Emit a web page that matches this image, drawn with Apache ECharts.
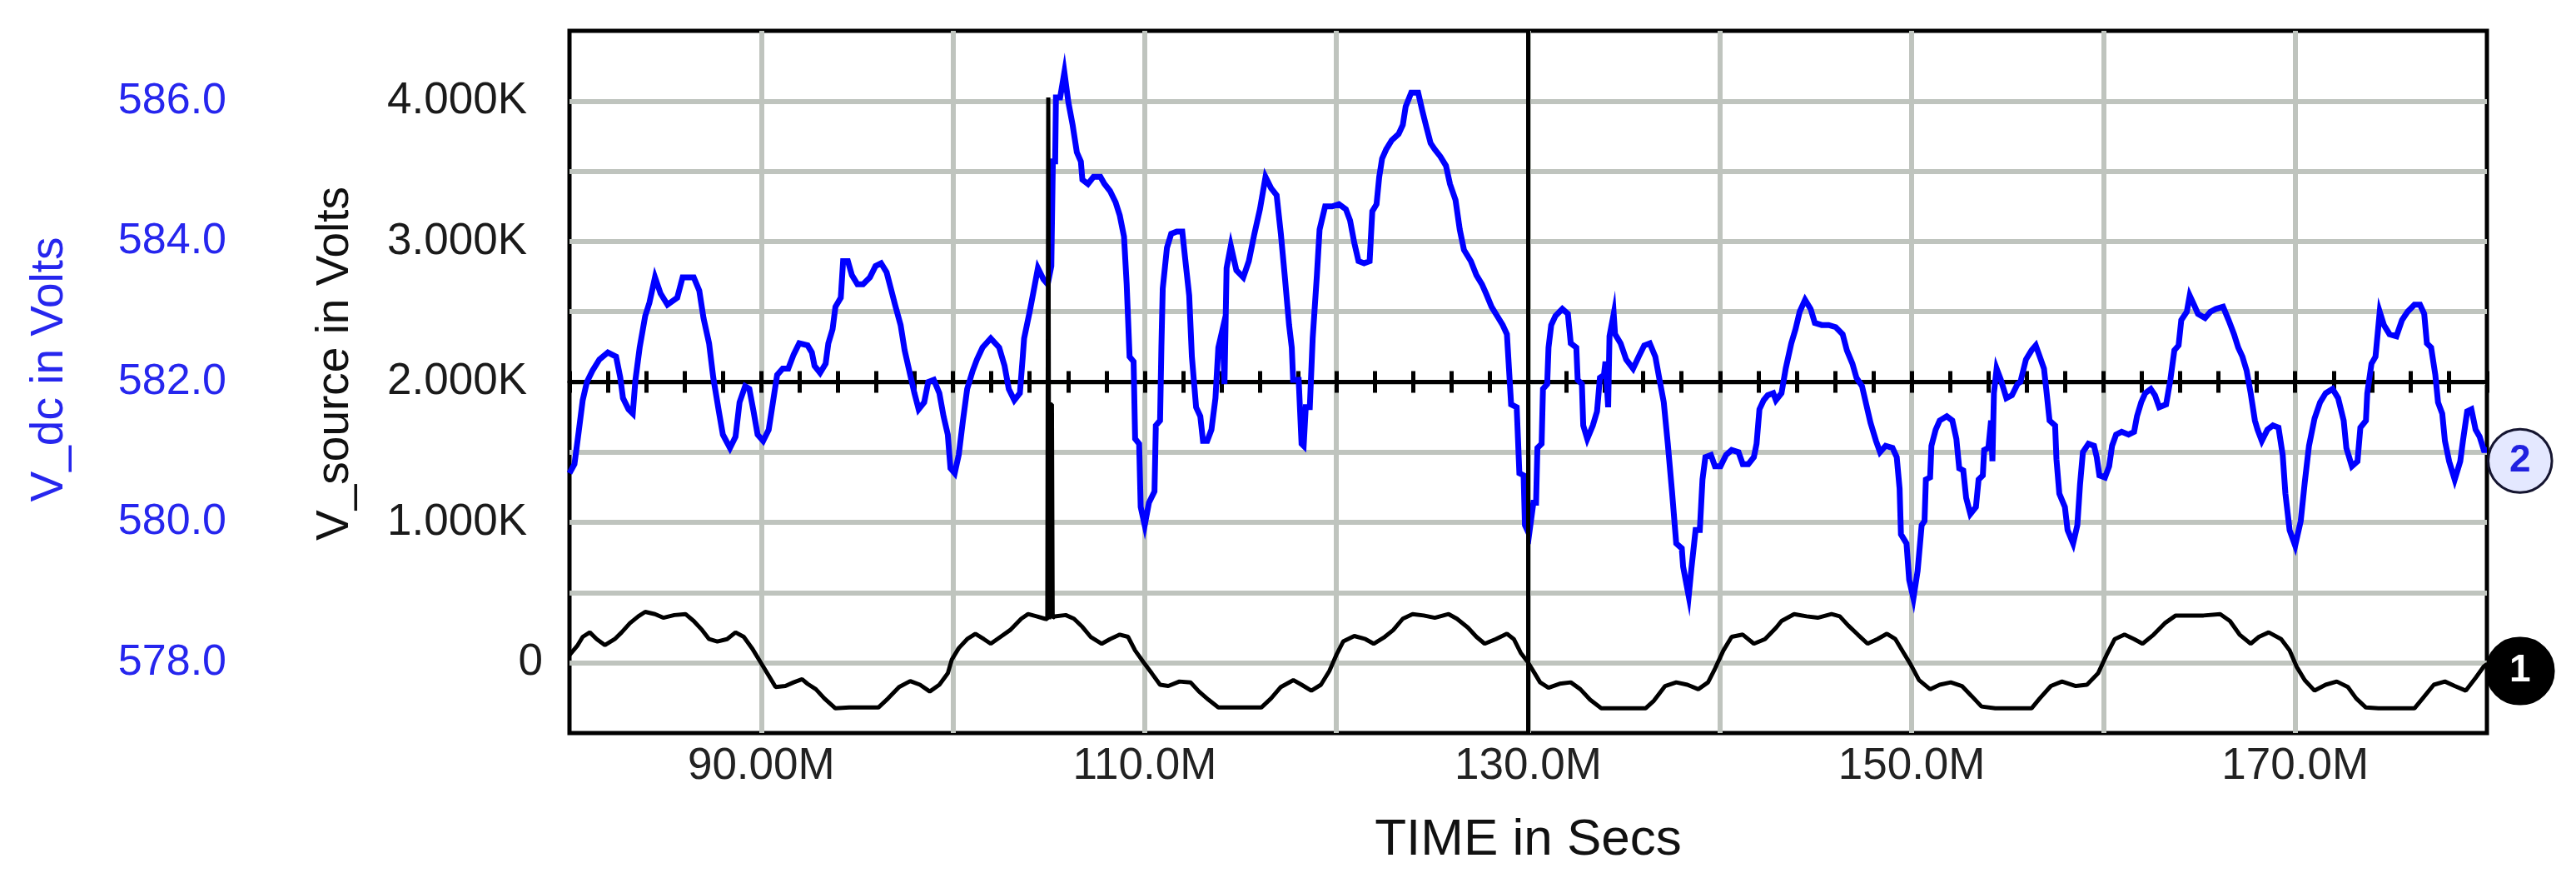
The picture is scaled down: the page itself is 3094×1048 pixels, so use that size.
<!DOCTYPE html>
<html>
<head>
<meta charset="utf-8">
<title>V_dc and V_source</title>
<script src="https://cdn.jsdelivr.net/npm/echarts@6.0.0/dist/echarts.min.js"></script>
<style>
  html, body { margin: 0; padding: 0; background: #fff; }
  #chart { width: 3094px; height: 1048px; }
</style>
</head>
<body>
<div id="chart"></div>
<script>
// time axis is in ms ("M" suffix on the labels)
const tDc = [
  80.00, 80.26, 80.48, 80.69, 80.91, 81.20, 81.56, 82.00, 82.43, 82.65, 82.79, 83.08, 83.30, 83.44, 83.66, 83.95,
  84.17, 84.46, 84.75, 85.11, 85.62, 85.90, 86.48, 86.77, 86.99, 87.28, 87.50, 87.79, 88.00, 88.37, 88.66, 88.87,
  89.16, 89.38, 89.60, 89.81, 90.10, 90.39, 90.61, 90.83, 91.12, 91.41, 91.69, 91.98, 92.42, 92.64, 92.78, 93.07,
  93.36, 93.50, 93.72, 93.87, 94.15, 94.27, 94.52, 94.73, 95.02, 95.31, 95.67, 95.96, 96.25, 96.54, 96.76, 96.98,
  97.27, 97.48, 97.77, 97.99, 98.21, 98.50, 98.71, 99.00, 99.29, 99.51, 99.73, 99.87, 100.09, 100.30, 100.52, 100.74,
  101.03, 101.25, 101.54, 101.97, 102.41, 102.69, 102.91, 103.20, 103.49, 103.64, 103.71, 104.00, 104.21, 104.43, 104.72, 104.94,
  105.13, 105.21, 105.33, 105.37, 105.59, 105.81, 106.02, 106.24, 106.46, 106.67, 106.75, 107.04, 107.33, 107.69, 107.90, 108.19,
  108.48, 108.70, 108.92, 109.06, 109.21, 109.42, 109.50, 109.71, 109.79, 110.00, 110.22, 110.51, 110.58, 110.80, 110.87, 110.94,
  111.16, 111.38, 111.67, 111.96, 112.10, 112.32, 112.46, 112.68, 112.90, 113.04, 113.26, 113.48, 113.69, 113.84, 114.06, 114.16,
  114.27, 114.49, 114.78, 115.14, 115.43, 115.72, 116.01, 116.30, 116.59, 116.88, 117.10, 117.31, 117.53, 117.67, 117.74, 118.03,
  118.18, 118.29, 118.40, 118.61, 118.76, 118.98, 119.12, 119.41, 119.77, 120.13, 120.49, 120.71, 120.93, 121.15, 121.44, 121.73,
  121.87, 122.09, 122.23, 122.38, 122.59, 122.88, 123.24, 123.46, 123.61, 123.90, 124.26, 124.48, 124.69, 124.91, 125.13, 125.42,
  125.71, 125.92, 126.21, 126.43, 126.65, 127.01, 127.30, 127.59, 127.80, 128.09, 128.38, 128.67, 128.89, 129.11, 129.40, 129.54,
  129.76, 129.83, 130.05, 130.27, 130.41, 130.48, 130.70, 130.77, 130.99, 131.06, 131.20, 131.42, 131.78, 132.07, 132.22, 132.51,
  132.58, 132.80, 132.87, 133.08, 133.37, 133.59, 133.74, 133.95, 134.03, 134.17, 134.24, 134.46, 134.53, 134.82, 135.11, 135.47,
  135.76, 136.05, 136.34, 136.63, 136.85, 137.07, 137.28, 137.50, 137.72, 138.01, 138.08, 138.37, 138.51, 138.73, 138.95, 139.09,
  139.24, 139.53, 139.74, 140.03, 140.32, 140.61, 140.97, 141.19, 141.48, 141.77, 141.91, 142.06, 142.28, 142.49, 142.78, 142.92,
  143.21, 143.43, 143.72, 143.94, 144.16, 144.44, 144.73, 144.95, 145.31, 145.67, 146.04, 146.40, 146.62, 146.91, 147.12, 147.41,
  147.63, 147.85, 148.14, 148.35, 148.64, 149.00, 149.22, 149.37, 149.44, 149.73, 149.87, 150.09, 150.31, 150.52, 150.67, 150.74,
  150.96, 151.03, 151.25, 151.46, 151.83, 152.12, 152.33, 152.48, 152.69, 152.84, 153.06, 153.35, 153.49, 153.71, 153.78, 154.00,
  154.14, 154.21, 154.29, 154.43, 154.65, 154.94, 155.23, 155.52, 155.67, 155.96, 156.25, 156.47, 156.68, 156.90, 157.04, 157.19,
  157.48, 157.55, 157.70, 157.99, 158.13, 158.42, 158.64, 158.78, 158.93, 159.22, 159.51, 159.65, 159.79, 160.08, 160.30, 160.45,
  160.66, 160.95, 161.31, 161.60, 161.75, 161.97, 162.18, 162.47, 162.69, 162.91, 163.27, 163.49, 163.70, 163.92, 164.06, 164.35,
  164.50, 164.72, 164.93, 165.30, 165.58, 165.87, 166.24, 166.53, 166.81, 167.03, 167.25, 167.47, 167.68, 167.90, 168.04, 168.26,
  168.55, 168.84, 169.13, 169.35, 169.49, 169.71, 170.00, 170.29, 170.50, 170.72, 171.01, 171.30, 171.59, 171.95, 172.24, 172.53,
  172.67, 172.96, 173.25, 173.40, 173.69, 173.76, 173.98, 174.19, 174.41, 174.63, 174.92, 175.28, 175.57, 175.86, 176.22, 176.51,
  176.73, 176.87, 177.09, 177.31, 177.45, 177.67, 177.81, 178.03, 178.32, 178.61, 178.75, 178.97, 179.19, 179.41, 179.62, 179.84,
  180.00
];
const vDc = [
  580.70, 580.83, 581.29, 581.74, 582.00, 582.16, 582.32, 582.42, 582.36, 582.06, 581.77, 581.61, 581.55, 582.03, 582.49, 582.94,
  583.13, 583.49, 583.26, 583.10, 583.20, 583.49, 583.49, 583.30, 582.91, 582.55, 582.06, 581.58, 581.25, 581.06, 581.22, 581.71,
  581.94, 581.90, 581.58, 581.25, 581.16, 581.32, 581.71, 582.10, 582.19, 582.19, 582.39, 582.55, 582.52, 582.42, 582.23, 582.13,
  582.26, 582.55, 582.75, 583.07, 583.20, 583.72, 583.72, 583.52, 583.39, 583.39, 583.49, 583.65, 583.69, 583.56, 583.33, 583.10,
  582.81, 582.45, 582.10, 581.84, 581.61, 581.71, 582.00, 582.03, 581.84, 581.51, 581.25, 580.77, 580.70, 580.96, 581.45, 581.90,
  582.16, 582.32, 582.49, 582.62, 582.49, 582.23, 581.90, 581.74, 581.84, 582.36, 582.62, 583.00, 583.30, 583.62, 583.46, 583.39,
  583.65, 585.14, 585.14, 586.05, 586.05, 586.41, 585.98, 585.66, 585.27, 585.14, 584.88, 584.82, 584.92, 584.92, 584.82, 584.72,
  584.56, 584.37, 584.07, 583.39, 582.36, 582.29, 581.19, 581.12, 580.22, 579.96, 580.28, 580.44, 581.38, 581.45, 582.49, 583.33,
  583.91, 584.11, 584.14, 584.14, 583.78, 583.23, 582.36, 581.64, 581.51, 581.16, 581.16, 581.32, 581.77, 582.49, 582.75, 581.97,
  583.62, 583.94, 583.59, 583.49, 583.72, 584.11, 584.46, 584.92, 584.76, 584.66, 584.11, 583.49, 582.81, 582.49, 582.03, 582.03,
  581.12, 581.09, 581.64, 581.64, 582.62, 583.52, 584.17, 584.50, 584.50, 584.53, 584.46, 584.30, 583.98, 583.72, 583.69, 583.72,
  584.43, 584.53, 584.92, 585.18, 585.31, 585.44, 585.53, 585.66, 585.92, 586.12, 586.12, 585.86, 585.63, 585.40, 585.31, 585.21,
  585.08, 584.82, 584.59, 584.17, 583.88, 583.72, 583.52, 583.39, 583.26, 583.07, 582.94, 582.81, 582.68, 581.68, 581.64, 580.70,
  580.67, 579.96, 579.83, 580.28, 580.28, 581.06, 581.12, 581.90, 581.97, 582.49, 582.81, 582.94, 583.04, 582.97, 582.55, 582.49,
  582.03, 581.97, 581.38, 581.19, 581.38, 581.58, 582.06, 582.10, 582.29, 581.64, 582.65, 582.97, 582.68, 582.55, 582.32, 582.19,
  582.36, 582.52, 582.55, 582.36, 582.03, 581.71, 581.12, 580.44, 579.70, 579.63, 579.37, 578.95, 579.34, 579.89, 579.89, 580.61,
  580.93, 580.96, 580.80, 580.80, 580.96, 581.03, 581.00, 580.83, 580.83, 580.93, 581.12, 581.61, 581.74, 581.81, 581.84, 581.74,
  581.84, 582.19, 582.55, 582.75, 583.00, 583.17, 583.04, 582.84, 582.81, 582.81, 582.78, 582.68, 582.45, 582.26, 582.06, 581.94,
  581.68, 581.42, 581.16, 581.00, 581.09, 581.06, 580.93, 580.48, 579.83, 579.70, 579.18, 578.92, 579.31, 579.96, 580.02, 580.61,
  580.64, 581.09, 581.32, 581.45, 581.51, 581.45, 581.19, 580.77, 580.74, 580.35, 580.12, 580.22, 580.61, 580.67, 581.03, 581.06,
  581.45, 580.87, 581.84, 582.19, 582.03, 581.77, 581.81, 581.97, 582.00, 582.32, 582.45, 582.52, 582.36, 582.19, 581.84, 581.45,
  581.38, 580.90, 580.41, 580.22, 579.89, 579.70, 579.96, 580.54, 581.00, 581.12, 581.09, 580.93, 580.67, 580.64, 580.80, 581.09,
  581.25, 581.29, 581.25, 581.29, 581.51, 581.71, 581.84, 581.90, 581.81, 581.64, 581.68, 582.03, 582.45, 582.52, 582.88, 583.00,
  583.23, 583.10, 582.97, 582.91, 583.00, 583.04, 583.07, 582.88, 582.68, 582.49, 582.36, 582.16, 581.84, 581.45, 581.32, 581.16,
  581.32, 581.38, 581.35, 580.96, 580.41, 579.89, 579.67, 580.02, 580.57, 581.09, 581.48, 581.71, 581.84, 581.90, 581.77, 581.45,
  581.06, 580.80, 580.87, 581.35, 581.45, 581.84, 582.26, 582.36, 583.00, 582.81, 582.68, 582.65, 582.88, 583.00, 583.10, 583.10,
  582.97, 582.55, 582.49, 582.10, 581.71, 581.55, 581.16, 580.87, 580.61, 580.87, 581.16, 581.58, 581.61, 581.32, 581.22, 581.03,
  581.03
];

const tSrc = [
  80.00, 80.40, 80.69, 81.06, 81.42, 81.85, 82.36, 82.72, 83.15, 83.59, 83.95, 84.46, 84.89, 85.47, 86.05, 86.48,
  86.92, 87.28, 87.71, 88.22, 88.66, 89.09, 89.52, 89.96, 90.39, 90.75, 91.26, 91.69, 92.13, 92.42, 92.85, 93.29,
  93.87, 94.59, 95.31, 96.11, 96.62, 97.19, 97.77, 98.28, 98.79, 99.29, 99.73, 99.94, 100.30, 100.74, 101.17, 101.61,
  101.97, 102.48, 102.98, 103.56, 103.92, 104.36, 104.79, 104.92, 104.97, 105.02, 105.06, 105.16, 105.20, 105.30, 105.88, 106.31,
  106.75, 107.18, 107.76, 108.19, 108.70, 109.13, 109.50, 109.93, 110.37, 110.80, 111.23, 111.81, 112.39, 112.83, 113.33, 113.84,
  114.56, 115.43, 116.08, 116.59, 117.10, 117.75, 118.18, 118.69, 119.19, 119.63, 119.99, 120.35, 120.93, 121.51, 121.94, 122.52,
  122.96, 123.46, 123.97, 124.55, 125.13, 125.85, 126.28, 126.86, 127.30, 127.73, 128.31, 128.89, 129.25, 129.61, 129.98, 130.34,
  130.62, 131.06, 131.64, 132.22, 132.72, 133.23, 133.81, 134.53, 135.26, 136.12, 136.56, 137.14, 137.72, 138.30, 138.87, 139.38,
  139.74, 140.18, 140.61, 141.19, 141.77, 142.35, 142.93, 143.21, 143.87, 144.52, 145.10, 145.82, 146.25, 146.69, 147.19, 147.70,
  148.21, 148.71, 149.15, 149.58, 149.94, 150.38, 150.96, 151.46, 152.04, 152.62, 153.13, 153.64, 154.36, 155.08, 156.25, 156.68,
  157.26, 157.84, 158.56, 159.14, 159.72, 160.16, 160.59, 161.10, 161.60, 162.04, 162.62, 163.20, 163.77, 164.35, 165.22, 166.09,
  166.60, 167.10, 167.68, 168.11, 168.62, 169.27, 169.71, 170.07, 170.50, 171.01, 171.59, 172.17, 172.75, 173.18, 173.69, 174.34,
  175.21, 176.22, 176.65, 177.23, 177.81, 178.32, 178.90, 179.41, 179.84, 180.00
];
const vSrc = [
  55, 120, 185, 217, 169, 126, 169, 217, 282, 331, 363, 347, 321, 340, 347, 298,
  233, 169, 152, 169, 217, 185, 104, 6, -91, -172, -165, -139, -117, -150, -188, -253,
  -324, -318, -318, -318, -253, -172, -130, -156, -204, -156, -75, 23, 104, 169, 207, 169,
  136, 185, 233, 314, 347, 331, 314, 310, 4026, 310, 1840, 1840, 320, 331, 340, 314,
  256, 185, 136, 169, 201, 185, 88, 6, -75, -156, -165, -133, -139, -204, -263, -318,
  -318, -318, -318, -253, -172, -123, -156, -198, -156, -58, 55, 152, 191, 169, 136, 185,
  233, 314, 347, 337, 321, 347, 314, 250, 185, 136, 169, 207, 169, 71, 6, -75,
  -139, -178, -149, -139, -188, -263, -324, -324, -324, -324, -269, -165, -139, -156, -188, -139,
  -42, 88, 185, 201, 136, 169, 250, 298, 347, 331, 321, 347, 331, 266, 201, 136,
  169, 207, 169, 71, -10, -123, -188, -156, -139, -165, -237, -311, -324, -324, -324, -253,
  -165, -133, -165, -156, -75, 55, 169, 201, 169, 136, 201, 282, 337, 337, 337, 347,
  298, 201, 136, 185, 217, 169, 88, -26, -123, -198, -156, -133, -172, -253, -318, -324,
  -324, -324, -253, -156, -133, -165, -198, -107, -26, -10
];

const xTickValues = [90, 110, 130, 150, 170];
const xTickLabels = ['90.00M', '110.0M', '130.0M', '150.0M', '170.0M'];
const srcTickValues = [0, 1000, 2000, 3000, 4000];
const srcTickLabels = ['0', '1.000K', '2.000K', '3.000K', '4.000K'];
const dcTickValues = [578, 580, 582, 584, 586];
const dcTickLabels = ['578.0', '580.0', '582.0', '584.0', '586.0'];
const cursorTime = 130;      // vertical cursor line
const traceNames = ['2', '1'];

const FONT = '"Liberation Sans", Arial, sans-serif';
const BLUE = '#0000ff';
const LABEL_BLUE = '#2626ee';
const GRID_GRAY = '#bfc4be';

function labelFor(values, labels) {
  return function (v) {
    for (let i = 0; i < values.length; i++) {
      if (Math.abs(values[i] - v) < 1e-6) return labels[i];
    }
    return '';
  };
}
const xLabelOf = labelFor(xTickValues, xTickLabels);
const srcLabelOf = labelFor(srcTickValues, srcTickLabels);
const dcLabelOf = labelFor(dcTickValues, dcTickLabels);

const chart = echarts.init(document.getElementById('chart'));

const option = {
  backgroundColor: '#fff',
  animation: false,
  grid: {
    left: 684, right: 107, top: 37, bottom: 168,
    show: true, borderColor: '#000', borderWidth: 5, backgroundColor: '#fff'
  },
  xAxis: [
    {
      type: 'value', min: 80, max: 180, interval: 10, position: 'bottom',
      axisLine: { show: false, onZero: false },
      axisTick: { show: false },
      axisLabel: { formatter: xLabelOf, fontSize: 53, color: '#222', margin: 14, fontFamily: FONT },
      splitLine: { show: true, showMinLine: false, showMaxLine: false, lineStyle: { color: GRID_GRAY, width: 6 } },
      name: 'TIME in Secs', nameLocation: 'middle', nameGap: 98,
      nameTextStyle: { fontSize: 62, color: '#111', fontFamily: FONT, letterSpacing: -1 }
    },
    // ticked line at V_source = 2000 (lower half of the ticks)
    {
      type: 'value', min: 80, max: 180, interval: 2, position: 'bottom',
      axisLine: { show: true, onZero: true, onZeroAxisIndex: 2, lineStyle: { color: '#000', width: 5 } },
      axisTick: { show: true, inside: false, length: 13, lineStyle: { color: '#000', width: 5 } },
      axisLabel: { show: false },
      splitLine: { show: false }
    },
    // upper half of the ticks
    {
      type: 'value', min: 80, max: 180, interval: 2, position: 'bottom',
      axisLine: { show: false, onZero: true, onZeroAxisIndex: 2 },
      axisTick: { show: true, inside: true, length: 13, lineStyle: { color: '#000', width: 5 } },
      axisLabel: { show: false },
      splitLine: { show: false }
    }
  ],
  yAxis: [
    {
      type: 'value', min: -500, max: 4500, interval: 500, position: 'left',
      axisLine: { show: false }, axisTick: { show: false },
      axisLabel: {
        formatter: function (v) {
          const s = srcLabelOf(v);
          return s && s !== '0' ? '{k|' + s + '}' : s;
        },
        fontSize: 53, color: '#1a1a1a', margin: 32, fontFamily: FONT,
        rich: { k: { fontSize: 53, color: '#1a1a1a', fontFamily: FONT, padding: [0, 19, 0, 0] } }
      },
      splitLine: { show: true, showMinLine: false, showMaxLine: false, lineStyle: { color: GRID_GRAY, width: 6 } },
      name: 'V_source in Volts', nameLocation: 'middle', nameGap: 254,
      nameTextStyle: { fontSize: 55, color: '#111', fontFamily: FONT, padding: [0, 0, 0, 44] }
    },
    {
      type: 'value', min: 577, max: 587, interval: 1, position: 'left', offset: 380,
      axisLine: { show: false }, axisTick: { show: false }, splitLine: { show: false },
      axisLabel: { formatter: dcLabelOf, fontSize: 52, color: LABEL_BLUE, margin: 32, fontFamily: FONT },
      name: 'V_dc in Volts', nameLocation: 'middle', nameGap: 217,
      nameTextStyle: { fontSize: 55, color: LABEL_BLUE, fontFamily: FONT, padding: [0, 0, 0, 30] }
    },
    // hidden helper: its zero sits at V_source = 2000
    { type: 'value', min: -2500, max: 2500, show: false }
  ],
  series: [
    {
      name: 'V_dc', type: 'line', xAxisIndex: 0, yAxisIndex: 1,
      data: tDc.map((t, i) => [t, vDc[i]]),
      showSymbol: false, symbol: 'none',
      lineStyle: { color: BLUE, width: 7, join: 'miter' }, itemStyle: { color: BLUE },
      endLabel: {
        show: true, formatter: traceNames[0], distance: 3, offset: [0, 13],
        color: '#2020e0', fontSize: 46, fontWeight: 'bold', fontFamily: FONT, lineHeight: 48,
        backgroundColor: '#e4e8ff', borderColor: '#151530', borderWidth: 3, borderRadius: 40,
        padding: [13, 24, 12, 24]
      }
    },
    {
      name: 'V_source', type: 'line', xAxisIndex: 0, yAxisIndex: 0,
      data: tSrc.map((t, i) => [t, vSrc[i]]),
      showSymbol: false, symbol: 'none',
      lineStyle: { color: '#000', width: 5 }, itemStyle: { color: '#000' },
      endLabel: {
        show: true, formatter: traceNames[1], distance: 0, offset: [0, 8],
        color: '#fff', fontSize: 46, fontWeight: 'bold', fontFamily: FONT, lineHeight: 48,
        backgroundColor: '#000', borderColor: '#000', borderWidth: 2, borderRadius: 40,
        padding: [16, 27, 14, 27]
      },
      markLine: {
        silent: true, symbol: 'none', animation: false,
        label: { show: false },
        lineStyle: { color: '#000', width: 5, type: 'solid' },
        data: [{ xAxis: cursorTime }]
      }
    }
  ]
};

chart.setOption(option);
</script>
</body>
</html>
